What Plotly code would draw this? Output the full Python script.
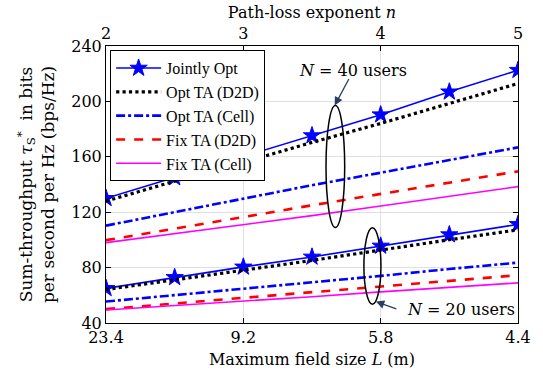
import plotly.graph_objects as go

# Data
n_vals = [2, 2.5, 3, 3.5, 4, 4.5, 5]
n_ticks = [2, 3, 4, 5]
L_ticktext = ["23.4", "9.2", "5.8", "4.4"]

# N = 40 users
joint_40 = [130, 145, 160, 175.3, 190.4, 206.9, 222.5]
optd2d_40 = [128, 142.4, 156, 170.4, 184.1, 198.5, 212.9]
optcell_40 = [110.3, 120, 130, 139.5, 148.5, 157.5, 166.8]
fixd2d_40 = [99.8, 108, 116.5, 125, 133, 141.5, 149.5]
fixcell_40 = [98, 104.5, 110.5, 117.5, 124.5, 131.5, 138.5]

# N = 20 users
joint_20 = [65, 72.9, 80.5, 87.7, 95.6, 103.8, 111.2]
optd2d_20 = [64.2, 71, 78.1, 85.2, 92.9, 100.1, 107.3]
optcell_20 = [55.5, 60, 64.5, 69.5, 74, 79, 83.6]
fixd2d_20 = [50, 54, 58, 62.5, 66.5, 70.5, 74.5]
fixcell_20 = [49.4, 52.5, 56, 59, 62.5, 66, 69]

FONT = "DejaVu Serif"
LEG_FONT = "Liberation Serif"
FS = 16
TFS = 17

styles = [
    ("Jointly Opt", dict(color="#0000ff", width=1.6), "lines+markers"),
    ("Opt TA (D2D)", dict(color="black", width=3.2, dash="dot"), "lines"),
    ("Opt TA (Cell)", dict(color="#0000ff", width=2.6, dash="dashdot"), "lines"),
    ("Fix TA (D2D)", dict(color="#ff0000", width=2.6, dash="dash"), "lines"),
    ("Fix TA (Cell)", dict(color="#ff00ff", width=1.6), "lines"),
]
series40 = [joint_40, optd2d_40, optcell_40, fixd2d_40, fixcell_40]
series20 = [joint_20, optd2d_20, optcell_20, fixd2d_20, fixcell_20]

star = dict(symbol="star", size=13, color="#0000ff", line=dict(color="#0000ff", width=1))

fig = go.Figure()
for (name, line, mode), y in zip(styles, series40):
    fig.add_trace(go.Scatter(x=n_vals, y=y, name=name, mode=mode, line=line,
                             marker=star, showlegend=True))
for (name, line, mode), y in zip(styles, series20):
    fig.add_trace(go.Scatter(x=n_vals, y=y, name=name, mode=mode, line=line,
                             marker=star, showlegend=False))
# invisible trace for top axis
fig.add_trace(go.Scatter(x=[2, 5], y=[40, 40], xaxis="x2", mode="lines",
                         line=dict(width=0), showlegend=False, hoverinfo="skip"))

# Ellipses (data coords)
ell40 = dict(xc=3.67, yc=153, dx=0.068, dy=44)
ell20 = dict(xc=3.94, yc=81.2, dx=0.062, dy=27.6)
for e in (ell40, ell20):
    fig.add_shape(type="circle", xref="x", yref="y",
                  x0=e["xc"] - e["dx"], x1=e["xc"] + e["dx"],
                  y0=e["yc"] - e["dy"], y1=e["yc"] + e["dy"],
                  line=dict(color="black", width=1.5))

# N=40 arrow + text
fig.add_annotation(x=3.665, y=197, xref="x", yref="y", ax=15, ay=-28,
                   text="", showarrow=True, arrowhead=2, arrowsize=1.3, arrowwidth=1.3,
                   standoff=0)
fig.add_annotation(x=3.80, y=222, xref="x", yref="y", text="<i>N</i> = 40 users",
                   showarrow=False, font=dict(family=FONT, size=FS, color="black"))
# N=20 arrow + text
fig.add_annotation(x=3.965, y=55.5, xref="x", yref="y", ax=22, ay=8,
                   text="", showarrow=True, arrowhead=2, arrowsize=1.3, arrowwidth=1.3,
                   standoff=0)
fig.add_annotation(x=4.585, y=49.6, xref="x", yref="y", text="<i>N</i> = 20 users",
                   showarrow=False, font=dict(family=FONT, size=FS, color="black"))

axis_common = dict(showline=True, linecolor="black", linewidth=1, ticks="inside",
                   ticklen=5, tickcolor="black", zeroline=False,
                   tickfont=dict(family=FONT, size=FS, color="black"))

fig.update_layout(
    width=543, height=381,
    margin=dict(l=106, r=23, t=45, b=58),
    paper_bgcolor="white", plot_bgcolor="white",
    font=dict(family=FONT, size=FS, color="black"),
    xaxis=dict(range=[2, 5], tickvals=n_ticks, ticktext=L_ticktext, mirror=False,
               showgrid=True, gridcolor="#e0e0e0", gridwidth=1,
               title=dict(text="Maximum field size <i>L</i> (m)", standoff=7,
                          font=dict(family=FONT, size=FS)),
               **axis_common),
    xaxis2=dict(range=[2, 5], tickvals=n_ticks, overlaying="x", side="top", anchor="y",
                showgrid=False,
                title=dict(text="Path-loss exponent <i>n</i>", standoff=0,
                           font=dict(family=FONT, size=FS)),
                **axis_common),
    yaxis=dict(range=[40, 240], tickvals=[40, 80, 120, 160, 200, 240], mirror="ticks",
               showgrid=True, gridcolor="#e0e0e0", gridwidth=1,
               title=dict(text="Sum-throughput <i>τ</i><sub>S</sub><sup>*</sup>  in bits<br>per second per Hz (bps/Hz)",
                          standoff=12, font=dict(family=FONT, size=TFS)),
               **axis_common),
    legend=dict(x=0.01, y=0.985, xanchor="left", yanchor="top",
                bgcolor="white", bordercolor="black", borderwidth=1,
                font=dict(family=LEG_FONT, size=16, color="black"),
                tracegroupgap=0, itemwidth=45),
)

fig.write_html("out.html")
